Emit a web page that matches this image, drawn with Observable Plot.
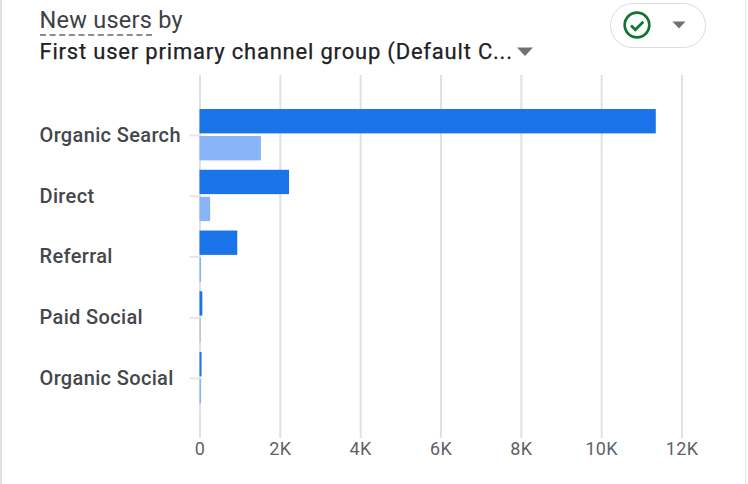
<!DOCTYPE html>
<html>
<head>
<meta charset="utf-8">
<script src="https://cdn.jsdelivr.net/npm/d3@7"></script>
<script src="https://cdn.jsdelivr.net/npm/@observablehq/plot@0.6"></script>
<style>
html,body{margin:0;padding:0;background:#fff;}
#card{position:relative;height:484px;border-left:2px solid #e0e0e6;border-right:1px solid #e3e3e8;box-sizing:border-box;width:746px;overflow:hidden;font-family:Roboto,sans-serif;}
#head{position:relative;height:75px;}
#t1{position:absolute;left:37.500px;top:6px;font-size:23.5px;color:#3c4043;white-space:nowrap;line-height:28px;letter-spacing:.25px;}
#t1 span{border-bottom:2px dashed #8a8d91;padding-bottom:0;}
#t2{position:absolute;left:37.500px;top:38px;font-size:22px;font-weight:400;color:#202124;white-space:nowrap;line-height:28px;letter-spacing:.8px;-webkit-text-stroke:.25px #202124;}
#icons{position:absolute;left:-2px;top:0;}
#chart{position:absolute;left:-2px;top:75px;width:748px;}
</style>
</head>
<body>
<div id="card">
  <div id="head">
    <div id="t1"><span>New users</span> by</div>
    <div id="t2">First user primary channel group (Default C...</div>
    <svg id="icons" width="748" height="75">
      <path d="M517 47.5h16l-8 8.5z" fill="#6f7175"/>
      <rect x="610.5" y="3.5" width="95" height="44" rx="22" fill="#fff" stroke="#dadce0"/>
      <circle cx="637" cy="25" r="12.300" fill="none" stroke="#137333" stroke-width="2.7"/>
      <path d="M631 25.5l4.300 4.300 8-8" fill="none" stroke="#137333" stroke-width="2.7"/>
      <path d="M672.500 21.500h13l-6.500 7z" fill="#6f7175"/>
    </svg>
  </div>
  <div id="chart"></div>
</div>
<script>
const categories = ["Organic Search", "Direct", "Referral", "Paid Social", "Organic Social"];
const currentUsers = [11360, 2230, 940, 70, 50];
const priorUsers = [1530, 265, 40, 35, 40];
const xTicks = [0, 2000, 4000, 6000, 8000, 10000, 12000];

const blue = "#1a73e8", lightBlue = "#8ab4f8", gray = "#bdc1c6";
const currentRows = categories.map((c, i) => ({category: c, value: currentUsers[i]}));
const priorRows = categories.map((c, i) => ({category: c, value: priorUsers[i]}));

const plot = Plot.plot({
  width: 748,
  height: 409,
  marginLeft: 199.5,
  marginRight: 66.5,
  marginTop: 0,
  marginBottom: 46,
  style: {fontFamily: "Roboto, sans-serif", background: "transparent", letterSpacing: "0.35px"},
  x: {domain: [0, 12000], axis: null},
  y: {domain: categories, paddingInner: 0, paddingOuter: 0.4877, round: false, axis: null},
  marks: [
    Plot.gridX(xTicks, {stroke: "#e0e0e6", strokeWidth: 2, strokeOpacity: 1}),
    Plot.axisY({
      anchor: "left", tickSize: 10, tickPadding: 150.5, textAnchor: "start",
      stroke: "#e6e6e6", strokeWidth: 2, color: "#3c4043", fill: "#44474b",
      fontSize: 20, fontWeight: 500, label: null
    }),
    Plot.barX(currentRows, {x: "value", y: "category", fill: blue, insetTop: 4.4, insetBottom: 32}),
    Plot.barX(priorRows, {x: "value", y: "category", insetTop: 31.4, insetBottom: 5,
      fill: d => d.category === "Paid Social" ? gray : lightBlue}),
    Plot.axisX({
      ticks: xTicks, tickSize: 0, tickPadding: 4, anchor: "bottom", label: null,
      tickFormat: d => d === 0 ? "0" : d / 1000 + "K",
      fill: "#5f6368", fontSize: 18
    })
  ]
});
document.getElementById("chart").appendChild(plot);
</script>
</body>
</html>
